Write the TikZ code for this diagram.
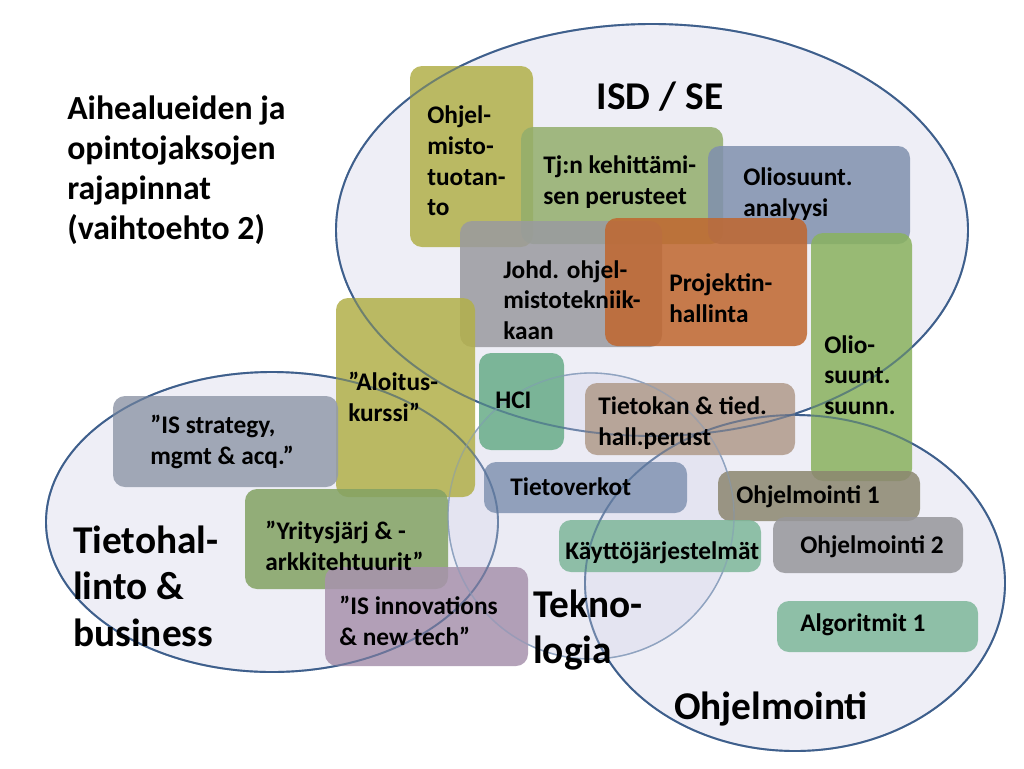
\documentclass[tikz,border=0pt]{standalone}
\usepackage{fontspec}
\setmainfont{Carlito}
\usepackage{tikz}
\definecolor{alue}{HTML}{DEDEEE}
\definecolor{reuna}{HTML}{3E5F8C}
\definecolor{reunavaalea}{HTML}{8FA3C0}
\definecolor{oliivi}{HTML}{B2B04A}
\definecolor{tjvihrea}{HTML}{93AE6C}
\definecolor{sininen}{HTML}{8090AE}
\definecolor{harmaa}{HTML}{9A9AA0}
\definecolor{oranssi}{HTML}{C0662E}
\definecolor{vihrea}{HTML}{89B25E}
\definecolor{turkoosi}{HTML}{68AC88}
\definecolor{ruskea}{HTML}{B09A8A}
\definecolor{liuske}{HTML}{939BAB}
\definecolor{teras}{HTML}{8294B2}
\definecolor{savi}{HTML}{8C8770}
\definecolor{lehti}{HTML}{83A263}
\definecolor{minttu}{HTML}{7EB79A}
\definecolor{harmaa2}{HTML}{97979B}
\definecolor{violetti}{HTML}{A892AD}
\tikzset{
	kurssi/.style={rounded corners=9pt, fill opacity=0.85},
	teksti/.style={anchor=west, align=left, inner sep=0pt, font=\fontsize{19}{23}\selectfont\bfseries},
	iso/.style={anchor=west, align=left, inner sep=0pt, font=\fontsize{29.5}{35}\selectfont\bfseries},
}
\def\kurssi[#1](#2)(#3){\fill[kurssi, #1] (#2) rectangle (#3);}

\begin{document}
\begin{tikzpicture}[x=0.75pt, y=-0.75pt]
			%%%%% START %%%%%
			
			\fill[white] (0, 0) rectangle (1024, 768);
			\useasboundingbox (0, 0) rectangle (1024, 768);
			
			% alueet
			\draw[line width=0.5mm, color=reuna, fill=alue, fill opacity=0.5] (652, 230) ellipse [x radius=316, y radius=206];
			\draw[line width=0.5mm, color=reuna, fill=alue, fill opacity=0.5] (272, 522) ellipse [x radius=226, y radius=150];
			\draw[line width=0.5mm, color=reuna, fill=alue, fill opacity=0.5] (795, 583) ellipse [x radius=210, y radius=168];
			\draw[line width=0.35mm, color=reunavaalea, fill=alue, fill opacity=0.6] (591, 516) circle (143);
			
			% kurssit
			\kurssi[fill=oliivi](410, 66)(533, 247)
			\kurssi[fill=tjvihrea](521, 127)(723, 244)
			\kurssi[fill=sininen](708, 146)(910, 244)
			\kurssi[fill=harmaa](460, 221)(662, 347)
			\kurssi[fill=oranssi](605, 218)(807, 346)
			\kurssi[fill=vihrea](811, 233)(912, 481)
			\kurssi[fill=oliivi](336, 298)(475, 497)
			\kurssi[fill=turkoosi](479, 353)(564, 450)
			\kurssi[fill=ruskea](585, 383)(795, 455)
			\kurssi[fill=liuske](113, 396)(338, 487)
			\kurssi[fill=teras](484, 462)(687, 513)
			\kurssi[fill=savi](718, 471)(920, 521)
			\kurssi[fill=lehti](245, 489)(448, 589)
			\kurssi[fill=minttu](559, 520)(761, 572)
			\kurssi[fill=harmaa2](773, 517)(963, 573)
			\kurssi[fill=violetti](325, 567)(528, 666)
			\kurssi[fill=minttu](777, 601)(978, 652)
			
			% reunat uudestaan
			\draw[line width=0.5mm, color=reuna, opacity=0.5] (652, 230) ellipse [x radius=316, y radius=206];
			\draw[line width=0.5mm, color=reuna, opacity=0.5] (272, 522) ellipse [x radius=226, y radius=150];
			\draw[line width=0.5mm, color=reuna, opacity=0.5] (795, 583) ellipse [x radius=210, y radius=168];
			\draw[line width=0.35mm, color=reunavaalea, opacity=0.5] (591, 516) circle (143);
			
			% tekstit
			\node[anchor=west, align=left, inner sep=0pt, font=\fontsize{25.3}{30}\selectfont\bfseries] (otsikko) at (67, 170) {Aihealueiden ja\\opintojaksojen\\rajapinnat\\(vaihtoehto 2)};
			\node[iso, anchor=center] (isd) at (660, 97) {ISD / SE};
			\node[iso] (tietohallinto) at (73, 586) {Tietohal-\\linto \&\\business};
			\node[iso] (teknologia) at (533, 630) {Tekno-\\logia};
			\node[iso, anchor=center] (ohjelmointi) at (771, 709) {Ohjelmointi};
			
			\node[teksti] (ohjtuot) at (427, 161) {Ohjel-\\misto-\\tuotan-\\to};
			\node[teksti] (tjkeh) at (543, 182) {Tj:n kehittämi-\\sen perusteet};
			\node[teksti] (olioan) at (743, 194) {Oliosuunt.\\analyysi};
			\node[teksti] (johd) at (503, 300) {Johd. ohjel-\\mistotekniik-\\kaan};
			\node[teksti] (projekti) at (669, 298) {Projektin-\\hallinta};
			\node[teksti] (oliosuunn) at (824, 375) {Olio-\\suunt.\\suunn.};
			\node[teksti] (aloitus) at (348, 397) {”Aloitus-\\kurssi”};
			\node[teksti] (hci) at (495, 400) {HCI};
			\node[teksti] (tietokan) at (598, 423) {Tietokan \& tied.\\hall.perust};
			\node[teksti] (isstrat) at (150, 442) {”IS strategy,\\mgmt \& acq.”};
			\node[teksti] (tietoverkot) at (510, 487) {Tietoverkot};
			\node[teksti] (ohj1) at (736, 497) {Ohjelmointi 1};
			\node[teksti] (yritys) at (265, 546) {”Yritysjärj \& -\\arkkitehtuurit”};
			\node[teksti] (kaytto) at (565, 553) {Käyttöjärjestelmät};
			\node[teksti] (ohj2) at (800, 547) {Ohjelmointi 2};
			\node[teksti] (isinnov) at (339, 621) {”IS innovations\\\& new tech”};
			\node[teksti] (algo) at (800, 625) {Algoritmit 1};
			
			%%%%% END %%%%%
\end{tikzpicture}
\end{document}
